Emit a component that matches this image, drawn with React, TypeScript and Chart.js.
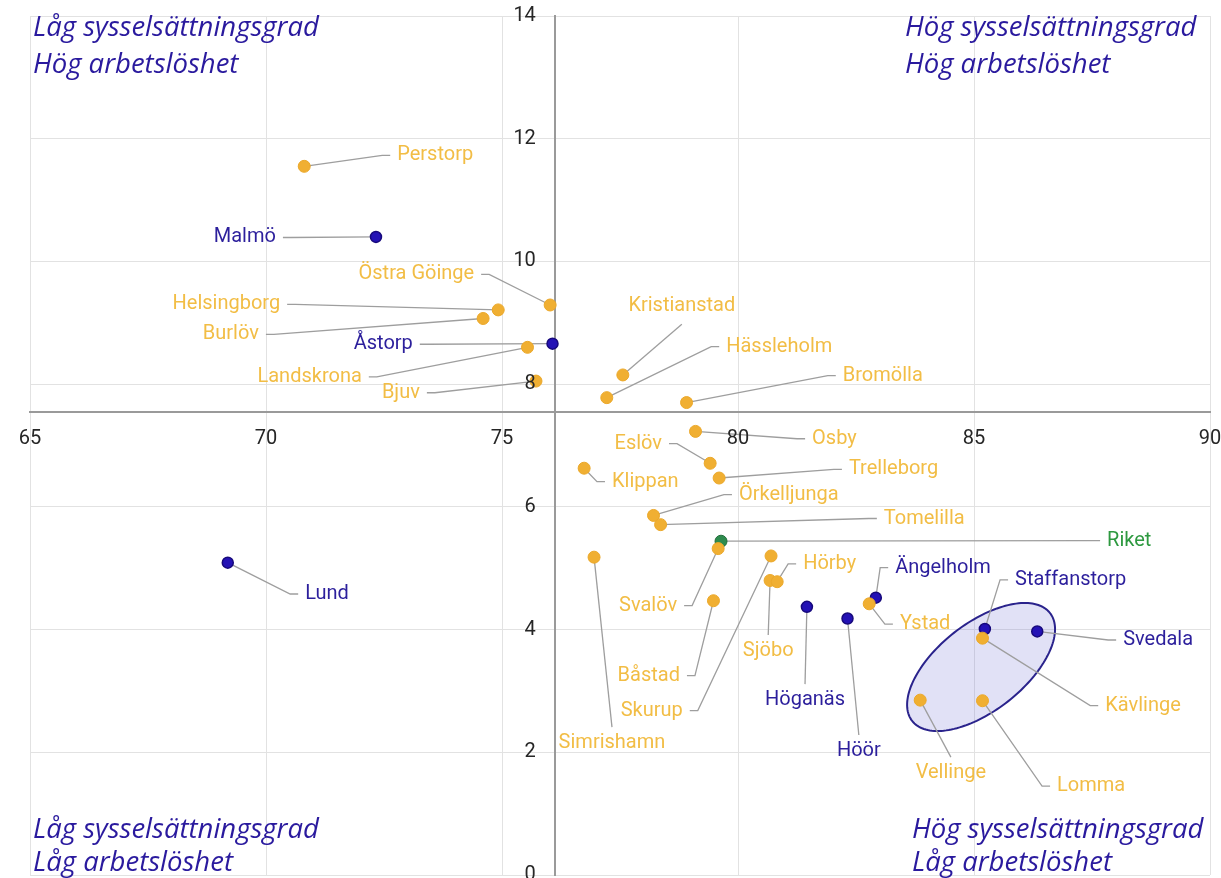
import React, { useEffect, useRef } from "react";
import { Chart, registerables } from "chart.js";

Chart.register(...registerables);

// ---- Data ----
const kommuner = [
  "Perstorp", "Malmö", "Östra Göinge", "Helsingborg", "Burlöv", "Åstorp", "Landskrona", "Bjuv",
  "Kristianstad", "Hässleholm", "Bromölla", "Osby", "Eslöv", "Klippan", "Trelleborg", "Örkelljunga",
  "Tomelilla", "Riket", "Svalöv", "Simrishamn", "Skurup", "Sjöbo", "Hörby", "Båstad", "Höganäs",
  "Höör", "Ystad", "Ängelholm", "Lund", "Staffanstorp", "Svedala", "Kävlinge", "Vellinge", "Lomma",
];
// Sysselsättningsgrad (%)
const sysselsattningsgrad = [
  70.81, 72.33, 76.02, 74.92, 74.6, 76.07, 75.54, 75.72,
  77.56, 77.22, 78.91, 79.1, 79.41, 76.74, 79.6, 78.21,
  78.36, 79.64, 79.58, 76.95, 80.7, 80.68, 80.83, 79.48, 81.46,
  82.32, 82.78, 82.92, 69.19, 85.23, 86.34, 85.18, 83.86, 85.18,
];
// Arbetslöshet (%)
const arbetsloshet = [
  11.55, 10.4, 9.29, 9.21, 9.07, 8.66, 8.6, 8.05,
  8.15, 7.78, 7.7, 7.23, 6.71, 6.63, 6.47, 5.86,
  5.71, 5.44, 5.32, 5.18, 5.2, 4.8, 4.78, 4.47, 4.37,
  4.18, 4.42, 4.52, 5.09, 4.01, 3.97, 3.86, 2.85, 2.84,
];
// o = övriga, b = markerade, g = riket
const grupp = [
  "o", "b", "o", "o", "o", "b", "o", "o",
  "o", "o", "o", "o", "o", "o", "o", "o",
  "o", "g", "o", "o", "o", "o", "o", "o", "b",
  "b", "o", "b", "b", "b", "b", "o", "o", "o",
];

// Axes cross (Skåne)
const crossX = 76.12;
const crossY = 7.55;
const xTicks = { min: 65, max: 90, step: 5 };
const yTicks = { min: 0, max: 14, step: 2 };

const quadrantTexts = [
  ["Låg sysselsättningsgrad", "Hög arbetslöshet"],
  ["Hög sysselsättningsgrad", "Hög arbetslöshet"],
  ["Låg sysselsättningsgrad", "Låg arbetslöshet"],
  ["Hög sysselsättningsgrad", "Låg arbetslöshet"],
];

// ---- Annotation layout (label anchors in data units) ----
const labelAnchorX = [
  72.78, 70.21, 74.41, 70.3, 69.85, 73.11, 72.03, 73.26,
  78.81, 79.75, 82.22, 81.57, 78.39, 77.33, 82.35, 80.02,
  83.09, 87.82, 78.71, 77.33, 78.83, 80.64, 81.38, 78.77, 81.42,
  82.56, 83.43, 83.33, 70.83, 85.87, 88.16, 87.78, 84.51, 86.76,
];
const labelAnchorY = [
  11.73, 10.39, 9.79, 9.3, 8.81, 8.65, 8.12, 7.86,
  9.27, 8.61, 8.14, 7.11, 7.03, 6.41, 6.61, 6.2,
  5.81, 5.45, 4.39, 2.15, 2.68, 3.65, 5.07, 3.25, 2.85,
  2.02, 4.09, 5.01, 4.58, 4.81, 3.83, 2.76, 1.66, 1.45,
];
// L: text right of anchor, R: text left of anchor, A: text above leader, B: text below leader
const labelSide = [
  "L", "R", "R", "R", "R", "R", "R", "R",
  "A", "L", "L", "L", "R", "L", "L", "L",
  "L", "L", "R", "B", "R", "B", "L", "R", "B",
  "B", "L", "L", "L", "L", "L", "L", "B", "L",
];
const ellipseCenter = [85.15, 3.39];
const ellipseMajorEnd = [86.61, 4.27];
const ellipseMinorEnd = [85.72, 2.83];

const dotColors: Record<string, string> = { o: "#F0AF32", b: "#2412B5", g: "#2E8B4E" };
const dotBorders: Record<string, string> = { o: "#EBA82A", b: "#17097C", g: "#236F3C" };
const textColors: Record<string, string> = { o: "#F2BD45", b: "#2C1F9C", g: "#2E9940" };

const overlayPlugin = {
  id: "overlay",
  beforeDatasetsDraw(chart: any) {
    const { ctx, scales } = chart;
    const xs = scales.x;
    const ys = scales.y;
    ctx.save();
    // ellipse
    const cx = xs.getPixelForValue(ellipseCenter[0]);
    const cy = ys.getPixelForValue(ellipseCenter[1]);
    const ax = xs.getPixelForValue(ellipseMajorEnd[0]) - cx;
    const ay = ys.getPixelForValue(ellipseMajorEnd[1]) - cy;
    const bx = xs.getPixelForValue(ellipseMinorEnd[0]) - cx;
    const by = ys.getPixelForValue(ellipseMinorEnd[1]) - cy;
    ctx.beginPath();
    for (let i = 0; i <= 160; i++) {
      const t = (i / 160) * Math.PI * 2;
      const px = cx + ax * Math.cos(t) + bx * Math.sin(t);
      const py = cy + ay * Math.cos(t) + by * Math.sin(t);
      if (i === 0) ctx.moveTo(px, py);
      else ctx.lineTo(px, py);
    }
    ctx.closePath();
    ctx.fillStyle = "rgba(120, 120, 215, 0.22)";
    ctx.fill();
    ctx.lineWidth = 2;
    ctx.strokeStyle = "#2A238C";
    ctx.stroke();

    // leader lines
    ctx.strokeStyle = "#9E9E9E";
    ctx.lineWidth = 1.3;
    for (let i = 0; i < kommuner.length; i++) {
      const px = xs.getPixelForValue(sysselsattningsgrad[i]);
      const py = ys.getPixelForValue(arbetsloshet[i]);
      const lx = xs.getPixelForValue(labelAnchorX[i]);
      const ly = ys.getPixelForValue(labelAnchorY[i]);
      ctx.beginPath();
      ctx.moveTo(px, py);
      const s = labelSide[i];
      if (s === "L") {
        ctx.lineTo(lx - 15, ly);
        ctx.lineTo(lx - 7, ly);
      } else if (s === "R") {
        ctx.lineTo(lx + 15, ly);
        ctx.lineTo(lx + 7, ly);
      } else if (s === "A") {
        ctx.lineTo(lx, ly + 18);
      } else {
        ctx.lineTo(lx, ly - 16);
      }
      ctx.stroke();
    }
    ctx.restore();
  },
  afterDatasetsDraw(chart: any) {
    const { ctx, scales, chartArea } = chart;
    const xs = scales.x;
    const ys = scales.y;
    ctx.save();
    // data labels
    ctx.font = "20px Roboto";
    ctx.textBaseline = "middle";
    for (let i = 0; i < kommuner.length; i++) {
      const lx = xs.getPixelForValue(labelAnchorX[i]);
      const ly = ys.getPixelForValue(labelAnchorY[i]);
      const s = labelSide[i];
      ctx.fillStyle = textColors[grupp[i]];
      ctx.textAlign = s === "L" ? "left" : s === "R" ? "right" : "center";
      ctx.fillText(kommuner[i], lx, ly);
    }
    // tick labels
    const axisY = ys.getPixelForValue(crossY);
    const axisX = xs.getPixelForValue(crossX);
    ctx.fillStyle = "#262626";
    ctx.font = "20px Roboto";
    ctx.textAlign = "center";
    xs.ticks.forEach((t: any) => {
      ctx.fillText(String(t.value), xs.getPixelForValue(t.value), axisY + 27);
    });
    ctx.textAlign = "right";
    ys.ticks.forEach((t: any) => {
      ctx.fillText(String(t.value), axisX - 19, ys.getPixelForValue(t.value));
    });
    // quadrant titles
    ctx.font = "italic 27.5px 'Open Sans'";
    ctx.fillStyle = "#2A1A9E";
    ctx.textAlign = "left";
    const L = chartArea.left + 3;
    const Rt = chartArea.right - 305;
    const Rb = chartArea.right - 298;
    const T1 = chartArea.top + 12;
    const T2 = chartArea.top + 49;
    const B1 = chartArea.bottom - 45;
    const B2 = chartArea.bottom - 12;
    const pos = [
      [L, T1, T2],
      [Rt, T1, T2],
      [L, B1, B2],
      [Rb, B1, B2],
    ];
    quadrantTexts.forEach((lines, q) => {
      ctx.fillText(lines[0], pos[q][0], pos[q][1]);
      ctx.fillText(lines[1], pos[q][0], pos[q][2]);
    });
    ctx.restore();
  },
};

function makeDataset(g: string) {
  const data: { x: number; y: number }[] = [];
  for (let i = 0; i < kommuner.length; i++) {
    if (grupp[i] === g) data.push({ x: sysselsattningsgrad[i], y: arbetsloshet[i] });
  }
  return {
    label: g,
    data,
    backgroundColor: dotColors[g],
    borderColor: dotBorders[g],
    borderWidth: g === "b" ? 1.5 : 1,
    pointRadius: g === "b" ? 5.5 : 6,
    pointHoverRadius: 6,
  };
}

export default function App() {
  const canvasRef = useRef<HTMLCanvasElement | null>(null);

  useEffect(() => {
    if (!canvasRef.current) return;
    const chart = new Chart(canvasRef.current, {
      type: "scatter",
      data: {
        datasets: [makeDataset("o"), makeDataset("b"), makeDataset("g")],
      },
      options: {
        animation: false,
        responsive: true,
        maintainAspectRatio: false,
        layout: { padding: { left: 30, right: 11, top: 16, bottom: 15 } },
        plugins: {
          legend: { display: false },
          tooltip: { enabled: false },
        },
        scales: {
          x: {
            type: "linear",
            min: xTicks.min,
            max: xTicks.max,
            position: { y: crossY } as any,
            ticks: { stepSize: xTicks.step, display: false },
            grid: { color: "#E2E2E2", lineWidth: 1, drawTicks: false },
            border: { display: true, color: "#9A9A9A", width: 2 },
          },
          y: {
            type: "linear",
            min: yTicks.min,
            max: yTicks.max,
            position: { x: crossX } as any,
            ticks: { stepSize: yTicks.step, display: false },
            grid: { color: "#E2E2E2", lineWidth: 1, drawTicks: false },
            border: { display: true, color: "#9A9A9A", width: 2 },
          },
        },
      },
      plugins: [overlayPlugin],
    });
    return () => chart.destroy();
  }, []);

  return (
    <div style={{ position: "fixed", left: 0, top: 0, width: 1221, height: 890, background: "#fff" }}>
      <canvas ref={canvasRef} />
    </div>
  );
}
